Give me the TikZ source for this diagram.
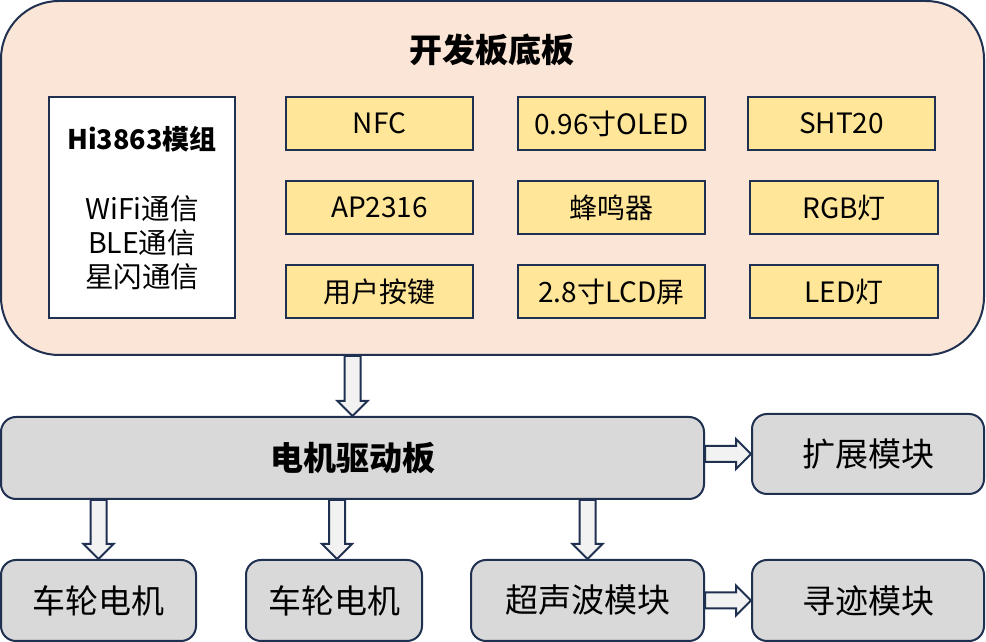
\documentclass[tikz,border=0pt]{standalone}
\usepackage{fontspec}
\setmainfont{Noto Sans CJK SC}
\usetikzlibrary{calc}
\definecolor{edge}{HTML}{1F3050}
\definecolor{peach}{HTML}{FBE5D6}
\definecolor{ylw}{HTML}{FFE699}
\definecolor{gry}{HTML}{D9D9D9}
\definecolor{arw}{HTML}{F2F2F2}
\tikzset{
  base/.style={draw=edge, line width=2pt, inner sep=0pt, align=center},
  ybox/.style={base, fill=ylw, minimum height=53pt, font=\fontsize{28}{32}\selectfont},
  gbox/.style={base, fill=gry, rounded corners=15pt, font=\fontsize{33}{37}\selectfont},
  barrow/.style={draw=edge, line width=2pt, fill=arw, line join=miter}
}
\newcommand\bdown[2]{\draw[barrow] let \p1=(#1), \p2=(#2) in
  (\x1-8pt,\y1) -- (\x1-8pt,\y2+15pt) -- (\x1-15pt,\y2+15pt) -- (\x1,\y2)
  -- (\x1+15pt,\y2+15pt) -- (\x1+8pt,\y2+15pt) -- (\x1+8pt,\y1) -- cycle;}
\newcommand\bright[2]{\draw[barrow] let \p1=(#1), \p2=(#2) in
  (\x1,\y1+8pt) -- (\x2-15pt,\y1+8pt) -- (\x2-15pt,\y1+15pt) -- (\x2,\y1)
  -- (\x2-15pt,\y1-15pt) -- (\x2-15pt,\y1-8pt) -- (\x1,\y1-8pt) -- cycle;}
\begin{document}
\begin{tikzpicture}[x=1pt,y=1pt]
\useasboundingbox (0,0) rectangle (986,642);
% main board
\node[base, fill=peach, rounded corners=58pt, minimum width=983pt, minimum height=354pt] (board) at (492.5,464) {};
\node[font=\fontsize{33}{37}\selectfont\bfseries] (title) at (492,592) {开发板底板};
% Hi3863 module
\node[base, fill=white, minimum width=186pt, minimum height=221pt] (hi) at (142,434.5) {};
\node[font=\fontsize{27}{31}\selectfont\bfseries] (hit) at (142,503) {Hi3863模组};
\node[font=\fontsize{28.5}{34}\selectfont, align=center] (hil) at (142,399) {WiFi通信\\BLE通信\\星闪通信};
% peripherals
\node[ybox, minimum width=187pt] (nfc) at (379.5,518.5) {NFC};
\node[ybox, minimum width=187pt] (oled) at (611.5,518.5) {0.96寸OLED};
\node[ybox, minimum width=187pt] (sht) at (841.5,518.5) {SHT20};
\node[ybox, minimum width=187pt] (ap) at (379.5,434.5) {AP2316};
\node[ybox, minimum width=187pt] (buzz) at (611.5,434.5) {蜂鸣器};
\node[ybox, minimum width=188pt] (rgb) at (844,434.5) {RGB灯};
\node[ybox, minimum width=187pt] (key) at (379.5,350.5) {用户按键};
\node[ybox, minimum width=187pt] (lcd) at (611.5,350.5) {2.8寸LCD屏};
\node[ybox, minimum width=188pt] (led) at (844,350.5) {LED灯};
% motor board and modules
\node[gbox, minimum width=703pt, minimum height=82pt, font=\fontsize{33}{37}\selectfont\bfseries] (motor) at (352.5,184) {电机驱动板};
\node[gbox, minimum width=232pt, minimum height=80pt] (ext) at (868,188) {扩展模块};
\node[gbox, minimum width=195pt, minimum height=81pt] (w1) at (98.5,41.5) {车轮电机};
\node[gbox, minimum width=176pt, minimum height=81pt] (w2) at (334,41.5) {车轮电机};
\node[gbox, minimum width=233pt, minimum height=81pt] (sonar) at (587.5,41.5) {超声波模块};
\node[gbox, minimum width=232pt, minimum height=81pt] (track) at (868,41.5) {寻迹模块};
% arrows
\bdown{motor.north |- board.south}{motor.north}
\bdown{w1.north |- motor.south}{w1.north}
\bdown{$(w2.north |- motor.south)+(3,0)$}{$(w2.north)+(3,0)$}
\bdown{sonar.north |- motor.south}{sonar.north}
\bright{motor.east |- ext.west}{ext.west}
\bright{sonar.east}{track.west}
\end{tikzpicture}
\end{document}
